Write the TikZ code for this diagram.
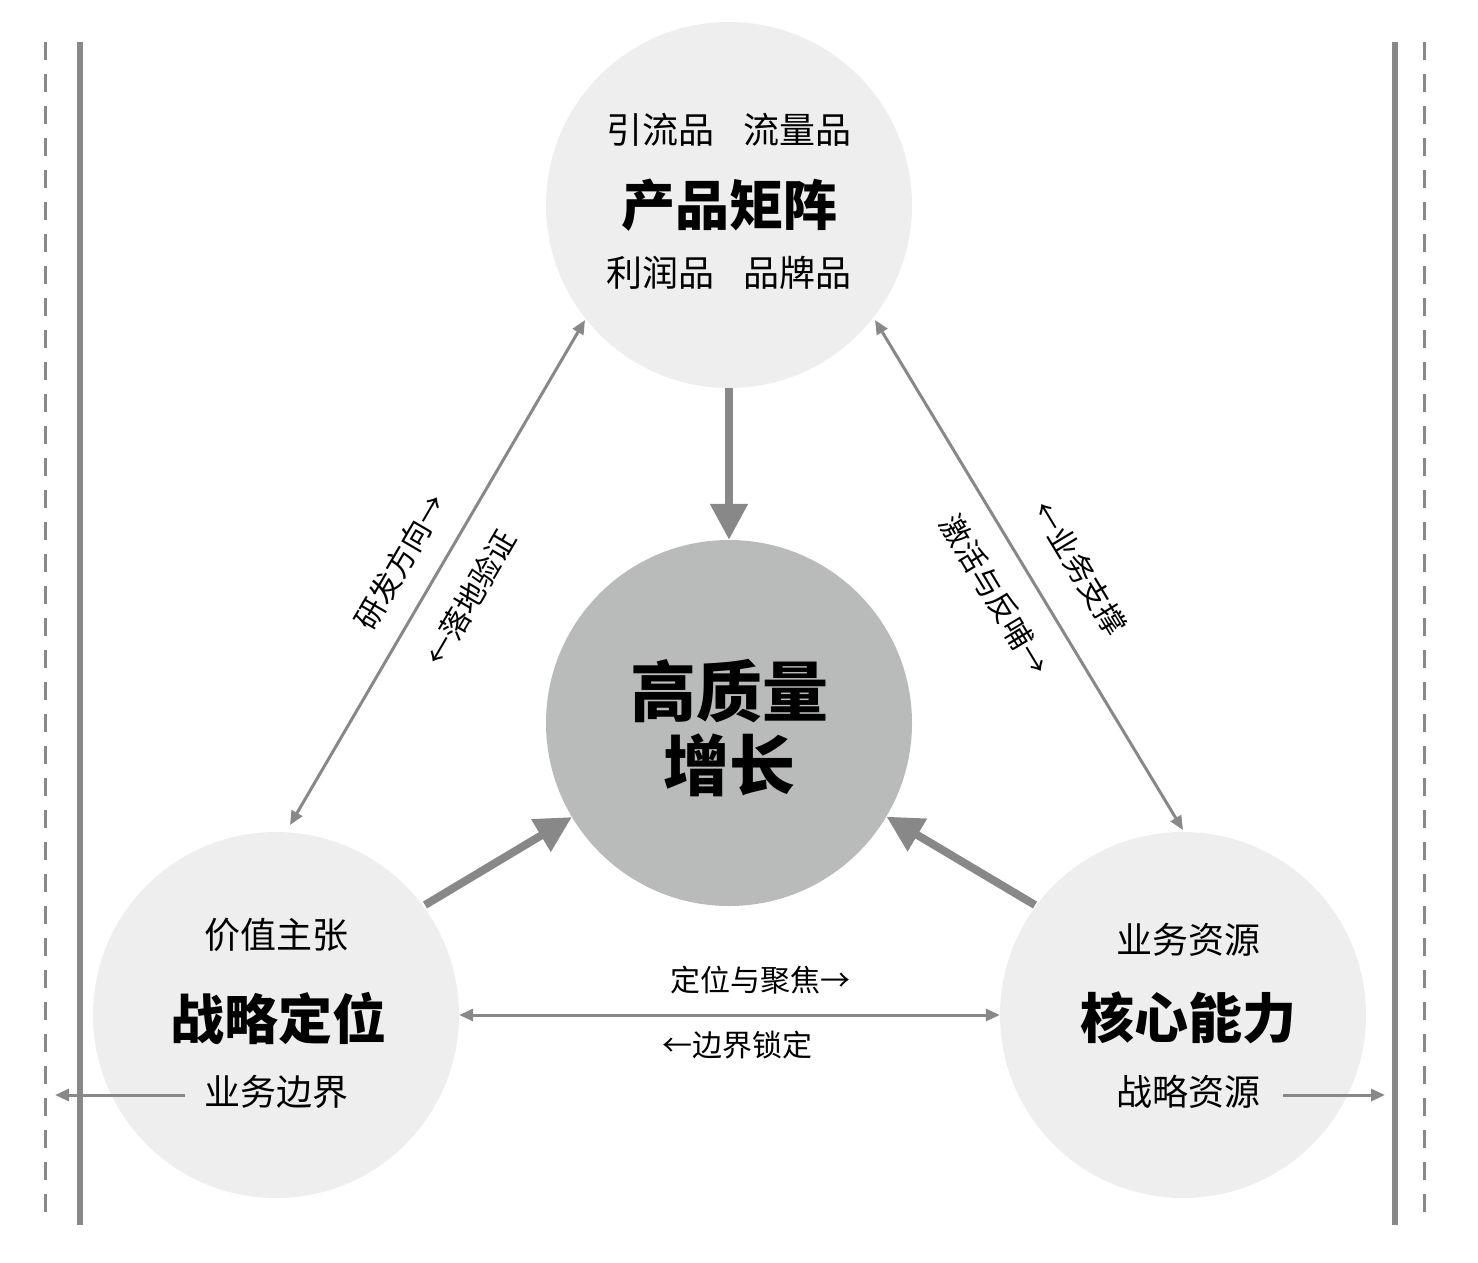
\documentclass[tikz,border=0pt]{standalone}
\usepackage{fontspec}
\setmainfont{Noto Sans CJK SC}
\usetikzlibrary{arrows.meta}
\definecolor{lightc}{HTML}{EDEEED}
\definecolor{darkc}{HTML}{B9BABA}
\definecolor{linec}{HTML}{888888}
\tikzset{
  ball/.style={circle, minimum size=366pt, inner sep=0pt},
  thin arrow/.style={linec, line width=3pt, {Triangle[length=14pt,width=12pt]}-{Triangle[length=14pt,width=12pt]}},
  thick arrow/.style={linec, line width=8pt, -{Triangle[length=36pt,width=36pt]}},
  out arrow/.style={linec, line width=3pt, -{Triangle[length=14pt,width=12pt]}},
  small/.style={font=\fontsize{36}{40}\selectfont},
  title/.style={font=\fontsize{54}{60}\selectfont\bfseries},
  lab/.style={font=\fontsize{30}{34}\selectfont},
}
\begin{document}
\begin{tikzpicture}[x=1pt, y=-1pt]
    \useasboundingbox (0,0) rectangle (1478,1262);
    % boundaries
    \draw[linec, line width=6pt] (80,42) -- (80,1225);
    \draw[linec, line width=6pt] (1395,42) -- (1395,1225);
    \draw[linec, line width=3pt, dash pattern=on 18pt off 14pt] (45,42) -- (45,1225);
    \draw[linec, line width=3pt, dash pattern=on 18pt off 14pt] (1424,42) -- (1424,1225);
    % circles
    \node[ball, fill=lightc] (prod) at (729,205) {};
    \node[ball, fill=darkc]  (grow) at (729,723) {};
    \node[ball, fill=lightc] (pos)  at (276,1015) {};
    \node[ball, fill=lightc] (core) at (1183,1015) {};
    % texts in circles
    \node[small] at (729,130) {引流品\hspace{0.8em}流量品};
    \node[title] at (729,205) {产品矩阵};
    \node[small] at (729,273) {利润品\hspace{0.8em}品牌品};
    \node[font=\fontsize{66}{74}\selectfont\bfseries, align=center] at (729,728) {高质量\\增长};
    \node[small] at (276,935) {价值主张};
    \node[title] at (278,1018) {战略定位};
    \node[small] at (276,1092) {业务边界};
    \node[small] at (1188,940) {业务资源};
    \node[title] at (1188,1018) {核心能力};
    \node[small] at (1188,1092) {战略资源};
    \coordinate (lin) at (185,1095);
    \coordinate (lout) at (55,1095);
    \coordinate (rin) at (1283,1095);
    \coordinate (rout) at (1385,1095);
    \coordinate (pa) at (290,825);
    \coordinate (pb) at (585,320);
    \coordinate (ca) at (875,320);
    \coordinate (cb) at (1183,830);
    % connectors
    \draw[thick arrow] (prod) -- (grow);
    \draw[thick arrow] (425,905) -- (grow);
    \draw[thick arrow] (1035,905) -- (grow);
    \draw[thin arrow] (pa) -- (pb);
    \draw[thin arrow] (ca) -- (cb);
    \draw[thin arrow] (pos) -- (core);
    \draw[out arrow] (lin) -- (lout);
    \draw[out arrow] (rin) -- (rout);
    % labels
    \node[lab, rotate=59.7] at (400,562) {研发方向→};
    \node[lab, rotate=59.7] at (470,598) {←落地验证};
    \node[lab, rotate=-58.9] at (995,595) {激活与反哺→};
    \node[lab, rotate=-58.9] at (1080,568) {←业务支撑};
    \node[lab] at (760,980) {定位与聚焦→};
    \node[lab] at (737,1045) {←边界锁定};
\end{tikzpicture}
\end{document}
